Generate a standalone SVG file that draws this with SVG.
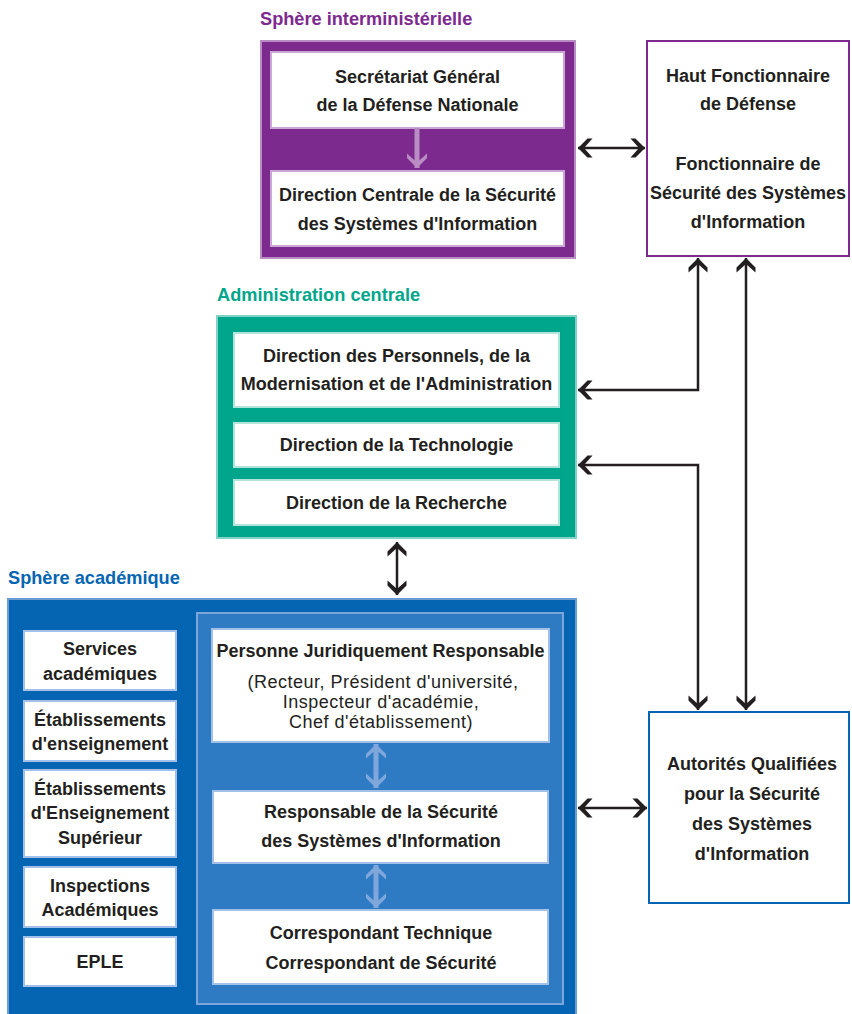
<svg xmlns="http://www.w3.org/2000/svg" width="852" height="1014" viewBox="0 0 852 1014">
<style>
text{font-family:"Liberation Sans Narrow","Arial Narrow","Liberation Sans",sans-serif;font-weight:bold;fill:#231f20;text-anchor:middle;font-size:18px}
.reg{font-weight:normal;font-size:18px;letter-spacing:0.5px}
.title{text-anchor:start;font-size:18.2px}
.wb{fill:#fff;stroke-width:2}
.conn{fill:none;stroke:#231f20;stroke-width:2.5}
</style>
<defs>
<marker id="ah" markerUnits="userSpaceOnUse" viewBox="-15 -11 16 22" refX="0" refY="0" markerWidth="16" markerHeight="22" orient="auto-start-reverse">
<path d="M0,0 L-9.5,-9.5 L-14.5,-9.5 L-6,0 L-14.5,9.5 L-9.5,9.5 Z" fill="#231f20"/>
</marker>
<marker id="ahp" markerUnits="userSpaceOnUse" viewBox="-15 -11 16 22" refX="0" refY="0" markerWidth="16" markerHeight="22" orient="auto-start-reverse">
<path d="M0,0 L-10,-10 L-14.5,-10 L-5.5,0 L-14.5,10 L-10,10 Z" fill="#b98cc4"/>
</marker>
<marker id="ahb" markerUnits="userSpaceOnUse" viewBox="-15 -11 16 22" refX="0" refY="0" markerWidth="16" markerHeight="22" orient="auto-start-reverse">
<path d="M0,0 L-10,-10 L-14.5,-10 L-5.5,0 L-14.5,10 L-10,10 Z" fill="#7fa7dc"/>
</marker>
</defs>
<rect width="852" height="1014" fill="#fff"/>

<g id="sphere-interministerielle">
<text class="title" x="260" y="25" style="fill:#7d2a8f">Sphère interministérielle</text>
<rect x="261" y="41" width="314" height="217" fill="#7d2a8f" stroke="#b98cc4" stroke-width="2"/>
</g>
<g id="sgdn">
<rect class="wb" x="271" y="52" width="293" height="76" stroke="#c9a6d3"/>
<text x="417.5" y="83">Secrétariat Général</text>
<text x="417.5" y="111">de la Défense Nationale</text>
</g>
<g id="dcssi">
<rect class="wb" x="271" y="171" width="293" height="75" stroke="#c9a6d3"/>
<text x="417.5" y="201">Direction Centrale de la Sécurité</text>
<text x="417.5" y="230">des Systèmes d'Information</text>
</g>

<g id="hfd">
<rect x="647" y="41" width="202" height="215" fill="#fff" stroke="#7d2a8f" stroke-width="2"/>
<text x="748" y="82">Haut Fonctionnaire</text>
<text x="748" y="110">de Défense</text>
<text x="748" y="170">Fonctionnaire de</text>
<text x="748" y="199">Sécurité des Systèmes</text>
<text x="748" y="228">d'Information</text>
</g>

<g id="administration-centrale">
<text class="title" x="217" y="301" style="fill:#00a68c">Administration centrale</text>
<rect x="217" y="316" width="359" height="222" fill="#00a68c" stroke="#80d3c6" stroke-width="2"/>
</g>
<g id="dpma">
<rect class="wb" x="234" y="333" width="325" height="74" stroke="#b3e4dc"/>
<text x="396.5" y="362">Direction des Personnels, de la</text>
<text x="396.5" y="390">Modernisation et de l'Administration</text>
</g>
<g id="dt">
<rect class="wb" x="234" y="423" width="325" height="44" stroke="#b3e4dc"/>
<text x="396.5" y="451">Direction de la Technologie</text>
</g>
<g id="dr">
<rect class="wb" x="234" y="480" width="325" height="45" stroke="#b3e4dc"/>
<text x="396.5" y="509">Direction de la Recherche</text>
</g>

<g id="sphere-academique">
<text class="title" x="8" y="584" style="fill:#0565b2">Sphère académique</text>
<rect x="8" y="599" width="568" height="430" fill="#0565b2" stroke="#6b9bd3" stroke-width="2"/>
<rect x="197" y="613" width="366" height="391" fill="#2f7bc3" stroke="#7aa6dc" stroke-width="2"/>
</g>
<g id="services-academiques">
<rect class="wb" x="24" y="631" width="152" height="59" stroke="#a3c1e8"/>
<text x="100" y="655">Services</text>
<text x="100" y="680">académiques</text>
</g>
<g id="etablissements-enseignement">
<rect class="wb" x="24" y="701" width="152" height="60" stroke="#a3c1e8"/>
<text x="100" y="726">Établissements</text>
<text x="100" y="750">d'enseignement</text>
</g>
<g id="etablissements-superieur">
<rect class="wb" x="24" y="770" width="152" height="87" stroke="#a3c1e8"/>
<text x="100" y="795">Établissements</text>
<text x="100" y="819">d'Enseignement</text>
<text x="100" y="844">Supérieur</text>
</g>
<g id="inspections">
<rect class="wb" x="24" y="867" width="152" height="60" stroke="#a3c1e8"/>
<text x="100" y="892">Inspections</text>
<text x="100" y="916">Académiques</text>
</g>
<g id="eple">
<rect class="wb" x="24" y="937" width="152" height="49" stroke="#a3c1e8"/>
<text x="100" y="968">EPLE</text>
</g>
<g id="pjr">
<rect class="wb" x="212" y="629" width="337" height="113" stroke="#a3c1e8"/>
<text x="380.5" y="657">Personne Juridiquement Responsable</text>
<text class="reg" x="383" y="688">(Recteur, Président d'université,</text>
<text class="reg" x="381" y="708">Inspecteur d'académie,</text>
<text class="reg" x="381" y="728">Chef d'établissement)</text>
</g>
<g id="rssi">
<rect class="wb" x="213" y="791" width="335" height="72" stroke="#a3c1e8"/>
<text x="381" y="818">Responsable de la Sécurité</text>
<text x="381" y="847">des Systèmes d'Information</text>
</g>
<g id="correspondant">
<rect class="wb" x="213" y="910" width="335" height="74" stroke="#a3c1e8"/>
<text x="381" y="939">Correspondant Technique</text>
<text x="381" y="969">Correspondant de Sécurité</text>
</g>

<g id="aqssi">
<rect x="649" y="712" width="200" height="191" fill="#fff" stroke="#0565b2" stroke-width="2"/>
<text x="752" y="770">Autorités Qualifiées</text>
<text x="752" y="800">pour la Sécurité</text>
<text x="752" y="830">des Systèmes</text>
<text x="752" y="860">d'Information</text>
</g>

<g id="connectors">
<path d="M417,128 V168" fill="none" stroke="#b98cc4" stroke-width="5" marker-end="url(#ahp)"/>
<path d="M376,744 V788" fill="none" stroke="#7fa7dc" stroke-width="5" marker-start="url(#ahb)" marker-end="url(#ahb)"/>
<path d="M376,865 V908" fill="none" stroke="#7fa7dc" stroke-width="5" marker-start="url(#ahb)" marker-end="url(#ahb)"/>
<path class="conn" d="M578,148 H645" marker-start="url(#ah)" marker-end="url(#ah)"/>
<path class="conn" d="M578,390 H698 V258" marker-start="url(#ah)" marker-end="url(#ah)"/>
<path class="conn" d="M578,465 H698 V710" marker-start="url(#ah)" marker-end="url(#ah)"/>
<path class="conn" d="M746,258 V710" marker-start="url(#ah)" marker-end="url(#ah)"/>
<path class="conn" d="M397,542 V595" marker-start="url(#ah)" marker-end="url(#ah)"/>
<path class="conn" d="M578,808 H647" marker-start="url(#ah)" marker-end="url(#ah)"/>
</g>
</svg>
